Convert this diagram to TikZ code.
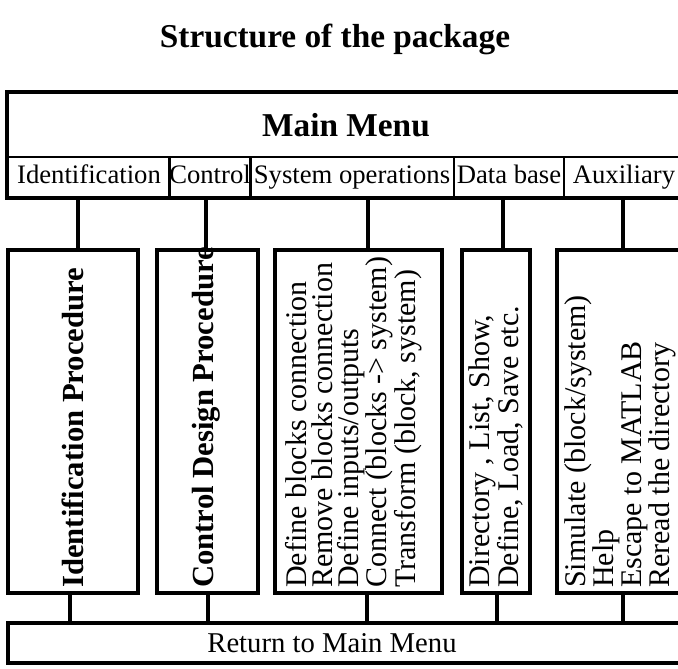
\documentclass[tikz,border=0pt]{standalone}
\usepackage{fontspec}
\setmainfont{Liberation Serif}

\begin{document}
\begin{tikzpicture}[
    x=0.75pt, y=-0.75pt,
    every node/.style={inner sep=0pt},
    titletext/.style={font=\fontsize{25}{28}\selectfont\bfseries},
    menuhead/.style={draw, line width=2pt, minimum width=507pt, minimum height=48pt, font=\fontsize{25}{28}\selectfont\bfseries},
    subcell/.style={draw, line width=1.2pt, minimum height=30pt, text height=14pt, text depth=4.5pt, font=\fontsize{20}{22}\selectfont},
    frame/.style={line width=3.2pt},
    procbox/.style={draw, line width=3pt, minimum height=257.25pt},
    proctext/.style={rotate=90, anchor=north west, align=left, font=\fontsize{22.5}{19.5}\selectfont},
    procbold/.style={rotate=90, anchor=north west, font=\fontsize{23}{25}\selectfont\bfseries},
    retbox/.style={draw, line width=3pt, minimum width=507pt, minimum height=30pt},
    rettext/.style={font=\fontsize{21.5}{24}\selectfont},
    link/.style={line width=3pt}
]
\useasboundingbox (0,0) rectangle (678,668);
\clip (0,0) rectangle (678,668);

% Title
\node[titletext] (title) at (335,39) {Structure of the package};

% Top: main menu and its row of submenus
\node[menuhead] (menu) at (346,125) {Main Menu};

\node[subcell, minimum width=121.5pt] (identcell) at (89,177) {Identification};
\node[subcell, minimum width=60pt] (ctrlcell) at (210,177) {Control};
\node[subcell, minimum width=153pt] (syscell) at (352,177) {System operations};
\node[subcell, minimum width=82.5pt] (dbcell) at (509,177) {Data base};
\node[subcell, minimum width=90pt] (auxcell) at (624,177) {Auxiliary};

\draw[frame] (menu.north west) rectangle (auxcell.south east);

% Middle: one box per submenu
\node[procbox, minimum width=97.5pt] (identbox) at (73,421.5) {};
\node[procbox, minimum width=75.75pt] (ctrlbox) at (207.5,421.5) {};
\node[procbox, minimum width=125.25pt] (sysbox) at (358.5,421.5) {};
\node[procbox, minimum width=51pt] (dbbox) at (496,421.5) {};
\node[procbox, minimum width=99pt] (auxbox) at (623,421.5) {};

\node[procbold] (identtxt) at (62,588) {Identification Procedure};
\node[procbold] (ctrltxt) at (192,588) {Control Design Procedure};
\node[proctext] (systxt) at (285,588) {Define blocks connection\\Remove blocks connection\\Define inputs/outputs\\Connect (blocks -> system)\\Transform (block, system)};
\node[proctext] (dbtxt) at (468,588) {Directory , List, Show,\\Define, Load, Save etc.};
\node[proctext] (auxtxt) at (564,588) {Simulate (block/system)\\Help\\Escape to MATLAB\\Reread the directory};

\draw[link] ([xshift=3.75pt]identbox.north) -- ([xshift=3.75pt]identbox.north |- identcell.south);
\draw[link] ([xshift=-1.1pt]ctrlbox.north) -- ([xshift=-1.1pt]ctrlbox.north |- ctrlcell.south);
\draw[link] ([xshift=7.1pt]sysbox.north) -- ([xshift=7.1pt]sysbox.north |- syscell.south);
\draw[link] ([xshift=5.25pt]dbbox.north) -- ([xshift=5.25pt]dbbox.north |- dbcell.south);
\draw[link] (auxbox.north) -- (auxbox.north |- auxcell.south);

% Bottom: way back
\node[retbox] (back) at (346,643) {};
\node[rettext] (backtxt) at (332,643) {Return to Main Menu};

\draw[link] ([xshift=-2.25pt]identbox.south) -- ([xshift=-2.25pt]identbox.south |- back.north);
\draw[link] (ctrlbox.south) -- (ctrlbox.south |- back.north);
\draw[link] ([xshift=6.4pt]sysbox.south) -- ([xshift=6.4pt]sysbox.south |- back.north);
\draw[link] ([xshift=0.75pt]dbbox.south) -- ([xshift=0.75pt]dbbox.south |- back.north);
\draw[link] (auxbox.south) -- (auxbox.south |- back.north);

\end{tikzpicture}
\end{document}
